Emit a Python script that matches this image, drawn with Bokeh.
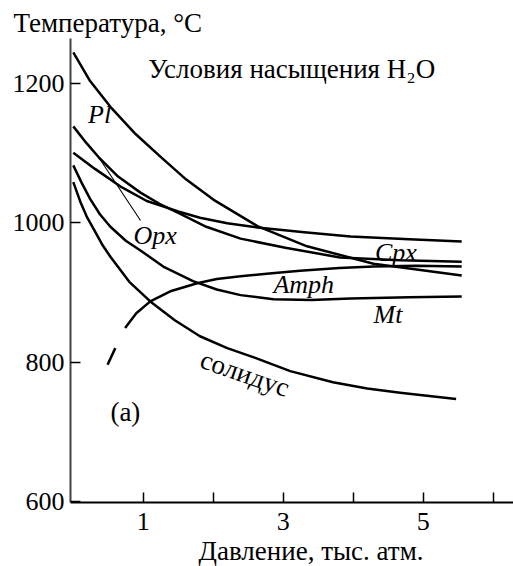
from bokeh.plotting import figure
from bokeh.models import Range1d, FixedTicker, Title
from bokeh.core.properties import value
from bokeh.embed import file_html
from bokeh.resources import INLINE

SERIF = "Liberation Serif"

# ---- data: pressure (kbar) vs temperature (°C), water-saturated conditions ----
pl_p = [0.0, 0.24, 0.53, 0.89, 1.24, 1.61, 2.0, 2.63, 3.34, 4.29, 5.55]
pl_t = [1244, 1203, 1166, 1127, 1095, 1062, 1033, 995, 966, 941, 924]

opx_p = [0.0, 0.18, 0.36, 0.64, 0.96, 1.23, 1.5, 1.9, 2.39, 3.03, 3.81, 4.67, 5.55]
opx_t = [1138, 1115, 1094, 1066, 1043, 1027, 1014, 994, 977, 964, 950, 946, 944]

cpx_p = [0.0, 0.31, 0.67, 1.05, 1.5, 1.81, 2.2, 2.63, 3.3, 3.96, 4.8, 5.55]
cpx_t = [1100, 1077, 1052, 1031, 1016, 1007, 999, 993, 986, 980, 976, 973]

mt_p = [0.0, 0.12, 0.24, 0.38, 0.53, 0.75, 0.96, 1.3, 1.71, 2.05, 2.39, 2.86, 3.4, 3.96, 4.8, 5.55]
mt_t = [1082, 1057, 1034, 1012, 994, 974, 960, 936, 916, 904, 896, 890, 889, 891, 893, 894]

sol_p = [0.0, 0.1, 0.19, 0.29, 0.41, 0.53, 0.8, 1.1, 1.45, 1.81, 2.2, 2.6, 3.1, 3.71, 4.2, 4.67, 5.47]
sol_t = [1058, 1030, 1009, 991, 969, 951, 915, 887, 860, 837, 820, 806, 787, 771, 762, 756, 747]

amph_p = [0.74, 0.9, 1.1, 1.4, 1.77, 2.05, 2.39, 2.8, 3.24, 3.8, 4.29, 4.9, 5.55]
amph_t = [849, 870, 887, 902, 913, 919, 923, 927, 931, 935, 937, 938, 937]

amph_dash_p = [0.49, 0.6]
amph_dash_t = [796, 820]

opx_leader_p = [0.36, 0.96]
opx_leader_t = [1094, 1003]

x_ticks = [1, 2, 3, 4, 5, 6]
x_tick_labels = {1: "1", 2: "", 3: "3", 4: "", 5: "5", 6: ""}
y_ticks = [600, 800, 1000, 1200]

labels_italic = ["Pl", "Opx", "Cpx", "Amph", "Mt"]
labels_italic_p = [0.21, 0.86, 4.31, 2.86, 4.29]
labels_italic_t = [1155, 981, 957, 911, 868]

p = figure(width=513, height=566, x_range=Range1d(-0.04, 6.29), y_range=Range1d(598.6, 1264),
           output_backend="svg", toolbar_location=None,
           min_border_left=70, min_border_right=0, min_border_top=38, min_border_bottom=61)
p.outline_line_color = None
p.xgrid.visible = False
p.ygrid.visible = False
p.background_fill_color = "white"

for ax in (p.xaxis, p.yaxis):
    ax.major_tick_in = 10
    ax.major_tick_out = 0
    ax.minor_tick_in = 0
    ax.minor_tick_out = 0
    ax.axis_line_width = 2
    ax.major_tick_line_width = 1.5
    ax.major_label_text_font = SERIF
    ax.major_label_text_font_size = "26px"
    ax.major_label_text_color = "black"
p.xaxis.axis_line_color = "black"
p.yaxis.axis_line_color = "#444444"
p.xaxis.ticker = FixedTicker(ticks=x_ticks)
p.xaxis.major_label_overrides = x_tick_labels
p.yaxis.ticker = FixedTicker(ticks=y_ticks)
p.xaxis.major_label_standoff = 10
p.yaxis.major_label_standoff = 6

p.title = Title(text="Температура, °C", align="left", offset=-57, text_font=SERIF,
                text_font_size="27px", text_font_style="normal", text_color="black", standoff=2)
p.add_layout(Title(text="Давление, тыс. атм.", align="left", offset=128, text_font=SERIF,
                   text_font_size="27px", text_font_style="normal", text_color="black",
                   standoff=2), "below")

lw = 2.5
for xs, ys in [(pl_p, pl_t), (opx_p, opx_t), (cpx_p, cpx_t), (mt_p, mt_t),
               (sol_p, sol_t), (amph_p, amph_t), (amph_dash_p, amph_dash_t)]:
    p.line(xs, ys, line_color="black", line_width=lw, line_join="round")
p.line(opx_leader_p, opx_leader_t, line_color="black", line_width=1.1)

p.text(x=labels_italic_p, y=labels_italic_t, text=labels_italic, text_font=value(SERIF),
       text_font_style="italic", text_font_size="26px", text_baseline="alphabetic",
       text_align="left", text_color="black")
p.text(x=[1.07], y=[1220], text=["Условия насыщения H₂O"], text_font=value(SERIF),
       text_font_size="27px", text_baseline="alphabetic", text_align="left", text_color="black")
p.text(x=[0.53], y=[729], text=["(a)"], text_font=value(SERIF),
       text_font_size="27px", text_baseline="alphabetic", text_align="left", text_color="black")
p.text(x=[1.83], y=[805], text=["солидус"], angle=-0.333, text_font=value(SERIF),
       text_font_size="27px", text_baseline="alphabetic", text_align="left", text_color="black")

open("out.html", "w").write(file_html(p, INLINE))
